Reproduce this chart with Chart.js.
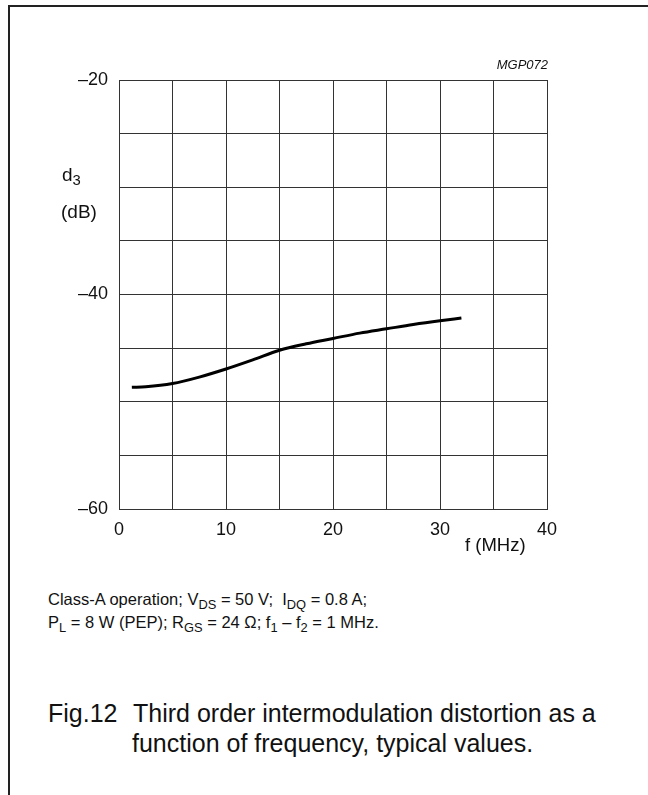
<!DOCTYPE html>
<html>
<head>
<meta charset="utf-8">
<script src="https://cdn.jsdelivr.net/npm/chart.js@4/dist/chart.umd.min.js"></script>
<style>
  html, body { margin: 0; padding: 0; background: #fff; }
  body { width: 648px; height: 795px; position: relative; overflow: hidden;
         font-family: "Liberation Sans", Arial, sans-serif; color: #111; }
  #frame { position: absolute; left: 8px; top: 5px; width: 660px; height: 820px;
           border-left: 2px solid #222; border-top: 2px solid #222; }
  #wrap { position: absolute; left: 0; top: 0; width: 648px; height: 570px; }
  .txt { position: absolute; white-space: nowrap; line-height: normal; }
  sub { font-size: 0.78em; vertical-align: -0.3em; line-height: 0; }
</style>
</head>
<body>
<div id="frame"></div>
<div id="wrap"><canvas id="chart"></canvas></div>

<div class="txt" style="right:100px; top:57px; font-size:13px; font-style:italic;">MGP072</div>
<div class="txt" style="left:62px; top:164px; font-size:19px;">d<sub>3</sub></div>
<div class="txt" style="left:61px; top:201px; font-size:19px;">(dB)</div>
<div class="txt" style="left:465px; top:534px; font-size:18.5px;">f (MHz)</div>

<div class="txt" style="left:48px; top:590px; font-size:16.5px;">Class-A operation; V<sub>DS</sub> = 50 V;&nbsp; I<sub>DQ</sub> = 0.8 A;</div>
<div class="txt" style="left:48px; top:613px; font-size:16.5px;">P<sub>L</sub> = 8 W (PEP); R<sub>GS</sub> = 24 &Omega;; f<sub>1</sub> &ndash; f<sub>2</sub> = 1 MHz.</div>

<div class="txt" style="left:48px; top:699px; font-size:25px;">Fig.12</div>
<div class="txt" style="left:133px; top:699px; font-size:25px;">Third order intermodulation distortion as a</div>
<div class="txt" style="left:132px; top:729px; font-size:25px;">function of frequency, typical values.</div>

<script>
// frequency (MHz) and third order intermodulation distortion d3 (dB)
const freq = [1.2, 2.5, 5, 7.5, 10, 12.5, 15, 17.5, 20, 22.5, 25, 27.5, 30, 32];
const d3 = [-48.65, -48.6, -48.3, -47.7, -46.95, -46.1, -45.2, -44.6, -44.1, -43.6, -43.2, -42.8, -42.45, -42.2];

const xTickLabels = [0, 10, 20, 30, 40];
const yTickLabels = [-20, -40, -60];

const fmt = v => (v < 0 ? '\u2013' + Math.abs(v) : String(v));

new Chart(document.getElementById('chart'), {
  type: 'line',
  data: {
    datasets: [{
      data: freq.map((f, i) => ({ x: f, y: d3[i] })),
      borderColor: '#000',
      borderWidth: 3,
      pointRadius: 0,
      fill: false,
      cubicInterpolationMode: 'monotone'
    }]
  },
  options: {
    responsive: true,
    maintainAspectRatio: false,
    animation: false,
    layout: { padding: { left: 0, top: 80, right: 101, bottom: 0 } },
    plugins: { legend: { display: false }, tooltip: { enabled: false } },
    scales: {
      x: {
        type: 'linear', min: 0, max: 40,
        border: { color: '#333', width: 1 },
        grid: { color: '#333', lineWidth: 1, drawTicks: false },
        ticks: {
          stepSize: 5, padding: 10, color: '#111', maxRotation: 0, autoSkip: false,
          font: { family: 'Liberation Sans', size: 18 },
          callback: v => (xTickLabels.includes(v) ? fmt(v) : '')
        },
        afterFit: s => { s.height = 61; }
      },
      y: {
        type: 'linear', min: -60, max: -20,
        border: { color: '#333', width: 1 },
        grid: { color: '#333', lineWidth: 1, drawTicks: false },
        ticks: {
          stepSize: 5, padding: 11, color: '#111', autoSkip: false,
          font: { family: 'Liberation Sans', size: 18 },
          callback: v => (yTickLabels.includes(v) ? fmt(v) : '')
        },
        afterFit: s => { s.width = 119; }
      }
    }
  }
});
</script>
</body>
</html>
